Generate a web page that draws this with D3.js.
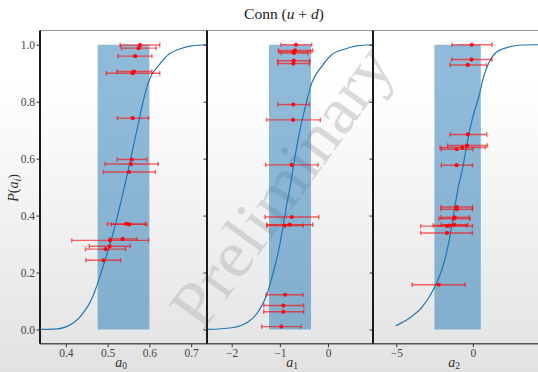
<!DOCTYPE html>
<html>
<head>
<meta charset="utf-8">
<script src="https://cdn.jsdelivr.net/npm/d3@7"></script>
<style>
  body { margin: 0; background: #fff; }
  svg { display: block; }
  .tick text { font-family: "Liberation Serif", serif; font-size: 11.5px; fill: #444; }
  .tick line { stroke: #333; }
  .domain { display: none; }
</style>
</head>
<body>
<div id="chart"></div>
<script>
const width = 538, height = 372;

// tick values
const yTicks = [0, 0.2, 0.4, 0.6, 0.8, 1.0];
const xTicks0 = [0.4, 0.5, 0.6, 0.7];
const xTicks1 = [-2, -1, 0];
const xTicks2 = [-5, 0];

// shaded band [lo, hi] per panel
const bandLo = [0.476, -1.225, -2.51];
const bandHi = [0.600, -0.353, 0.52];

// error bars: [P, centre, lo, hi]
const errs0 = [
  [0.999, 0.578, 0.530, 0.625], [0.988, 0.574, 0.533, 0.616], [0.960, 0.566, 0.525, 0.606],
  [0.906, 0.563, 0.522, 0.606], [0.900, 0.560, 0.497, 0.625], [0.742, 0.560, 0.523, 0.598],
  [0.597, 0.558, 0.523, 0.594], [0.581, 0.556, 0.494, 0.621], [0.553, 0.551, 0.490, 0.614],
  [0.371, 0.545, 0.499, 0.590], [0.369, 0.552, 0.509, 0.594], [0.318, 0.536, 0.505, 0.570],
  [0.313, 0.5055, 0.414, 0.598], [0.292, 0.505, 0.456, 0.554], [0.282, 0.495, 0.447, 0.543],
  [0.243, 0.490, 0.448, 0.531]
];
const errs1 = [
  [1.000, -0.665, -0.976, -0.339], [0.980, -0.685, -1.032, -0.318], [0.975, -0.717, -1.018, -0.353],
  [0.971, -0.706, -0.976, -0.415], [0.944, -0.712, -1.045, -0.374], [0.934, -0.721, -1.045, -0.388],
  [0.790, -0.721, -1.038, -0.388], [0.736, -0.727, -1.273, -0.160], [0.578, -0.754, -1.294, -0.208],
  [0.395, -0.754, -1.308, -0.193], [0.368, -0.795, -1.273, -0.318], [0.365, -0.899, -1.267, -0.513],
  [0.122, -0.893, -1.288, -0.519], [0.084, -0.928, -1.335, -0.505], [0.062, -0.928, -1.335, -0.505],
  [0.010, -0.970, -1.377, -0.561]
];
const errs2 = [
  [1.000, -0.07, -1.36, 1.25], [0.948, -0.09, -1.39, 1.25], [0.929, -0.33, -1.49, 0.88],
  [0.685, -0.33, -1.49, 0.91], [0.646, -0.39, -1.65, 0.95], [0.639, -0.69, -2.14, 0.82],
  [0.633, -1.06, -2.06, 0.00], [0.577, -1.06, -2.06, -0.02], [0.430, -1.06, -2.08, -0.02],
  [0.422, -1.04, -2.08, -0.02], [0.394, -1.19, -2.08, -0.26], [0.389, -1.23, -2.21, -0.18],
  [0.368, -1.21, -2.06, -0.29], [0.365, -1.56, -2.60, -0.42], [0.363, -1.69, -3.40, -0.03],
  [0.339, -1.69, -3.39, -0.03], [0.157, -2.23, -3.96, -0.50]
];

// cumulative curves: [x, P]
const curve0 = [
  [0.338, 0.0], [0.38, 0.002], [0.40, 0.009], [0.42, 0.025], [0.44, 0.055], [0.461, 0.104],
  [0.476, 0.162], [0.489, 0.221], [0.50, 0.272], [0.513, 0.338], [0.533, 0.455], [0.55, 0.565],
  [0.572, 0.713], [0.584, 0.795], [0.60, 0.877], [0.624, 0.93], [0.648, 0.968], [0.671, 0.984],
  [0.70, 0.996], [0.738, 1.0]
];
const curve1 = [
  [-2.513, 0.0], [-2.0, 0.006], [-1.655, 0.027], [-1.448, 0.063], [-1.273, 0.121], [-1.169, 0.18],
  [-1.032, 0.273], [-0.928, 0.367], [-0.858, 0.438], [-0.783, 0.505], [-0.685, 0.607], [-0.582, 0.701],
  [-0.478, 0.777], [-0.339, 0.865], [-0.131, 0.924], [0.077, 0.965], [0.353, 0.985], [0.60, 0.996],
  [0.928, 1.0]
];
const curve2 = [
  [-5.03, 0.013], [-4.16, 0.039], [-3.29, 0.080], [-2.53, 0.145], [-1.99, 0.215], [-1.56, 0.309],
  [-1.23, 0.414], [-0.95, 0.50], [-0.69, 0.561], [-0.37, 0.654], [-0.05, 0.736], [0.39, 0.818],
  [0.71, 0.889], [1.04, 0.936], [1.47, 0.971], [2.12, 0.988], [3.2, 0.999], [4.3, 1.0]
];

const xLabels = ["0", "1", "2"];

const margin = { top: 30.5, bottom: 343.7 };
const panels = [
  { x0: 40, x1: 207, dom: [0.338, 0.738], ticks: xTicks0, fmt: d3.format(".1f"), errs: errs0, curve: curve0, lx: 121 },
  { x0: 207, x1: 373, dom: [-2.513, 0.934], ticks: xTicks1, fmt: d3.format("d"), errs: errs1, curve: curve1, lx: 292 },
  { x0: 373, x1: 539, dom: [-6.52, 4.32], ticks: xTicks2, fmt: d3.format("d"), errs: errs2, curve: curve2, lx: 454 }
];

const svg = d3.select("#chart").append("svg")
  .attr("width", width)
  .attr("height", height);

const defs = svg.append("defs");
const grad = defs.append("linearGradient")
  .attr("id", "bg").attr("x1", 0).attr("y1", 0).attr("x2", 0).attr("y2", 1);
grad.append("stop").attr("offset", "0%").attr("stop-color", "#ffffff");
grad.append("stop").attr("offset", "22%").attr("stop-color", "#ffffff");
grad.append("stop").attr("offset", "100%").attr("stop-color", "#e2e2e2");

svg.append("rect").attr("width", width).attr("height", height).attr("fill", "url(#bg)");

const yScale = d3.scaleLinear().domain([-0.05, 1.05]).range([margin.bottom, margin.top]);

// watermark
svg.append("text")
  .attr("transform", "translate(281,186) rotate(-54)")
  .attr("text-anchor", "middle")
  .attr("dominant-baseline", "central")
  .attr("textLength", 330)
  .attr("lengthAdjust", "spacingAndGlyphs")
  .style("font-family", "'Liberation Serif', serif")
  .style("font-size", "66px")
  .style("fill", "#bbb")
  .style("fill-opacity", 0.55)
  .text("Preliminary");

const line = d3.line().curve(d3.curveMonotoneX);

panels.forEach((p, i) => {
  const xScale = d3.scaleLinear().domain(p.dom).range([p.x0, p.x1]);
  const g = svg.append("g");

  g.append("rect")
    .attr("x", xScale(bandLo[i]))
    .attr("width", xScale(bandHi[i]) - xScale(bandLo[i]))
    .attr("y", yScale(1))
    .attr("height", yScale(0) - yScale(1))
    .attr("fill", "#1f77b4")
    .attr("fill-opacity", 0.5);

  g.append("path")
    .attr("d", line.x(d => xScale(d[0])).y(d => yScale(d[1]))(p.curve))
    .attr("fill", "none")
    .attr("stroke", "#1f77b4")
    .attr("stroke-width", 1.2);

  const eb = g.selectAll(".eb")
    .data(p.errs)
    .join("g")
    .attr("class", "eb");

  eb.append("line")
    .attr("x1", d => xScale(d[2])).attr("x2", d => xScale(d[3]))
    .attr("y1", d => yScale(d[0])).attr("y2", d => yScale(d[0]));
  eb.append("line")
    .attr("x1", d => xScale(d[2])).attr("x2", d => xScale(d[2]))
    .attr("y1", d => yScale(d[0]) - 2.2).attr("y2", d => yScale(d[0]) + 2.2);
  eb.append("line")
    .attr("x1", d => xScale(d[3])).attr("x2", d => xScale(d[3]))
    .attr("y1", d => yScale(d[0]) - 2.2).attr("y2", d => yScale(d[0]) + 2.2);
  eb.selectAll("line")
    .attr("stroke", "#ff0000")
    .attr("stroke-opacity", 0.6)
    .attr("stroke-width", 1.4);
  eb.append("circle")
    .attr("cx", d => xScale(d[1]))
    .attr("cy", d => yScale(d[0]))
    .attr("r", 2.1)
    .attr("fill", "#ff0000")
    .attr("fill-opacity", 0.9);

  // axes
  g.append("g")
    .attr("transform", `translate(0,${margin.bottom})`)
    .call(d3.axisBottom(xScale).tickValues(p.ticks).tickFormat(p.fmt).tickSize(3.5).tickPadding(1.5));

  g.append("g")
    .attr("transform", `translate(${p.x0},0)`)
    .call(d3.axisLeft(yScale).tickValues(yTicks)
      .tickFormat(i === 0 ? d3.format(".1f") : "").tickSize(3.5).tickPadding(1.5));

  // spines
  g.append("line").attr("x1", p.x0).attr("x2", p.x1).attr("y1", margin.top).attr("y2", margin.top)
    .attr("stroke", "#999").attr("stroke-width", 1.2);
  g.append("line").attr("x1", p.x0).attr("x2", p.x1).attr("y1", margin.bottom).attr("y2", margin.bottom)
    .attr("stroke", "#555").attr("stroke-width", 1.5);
  g.append("line").attr("x1", p.x0).attr("x2", p.x0).attr("y1", margin.top).attr("y2", margin.bottom)
    .attr("stroke", "#1a1a1a").attr("stroke-width", 2);
  g.append("line").attr("x1", p.x1).attr("x2", p.x1).attr("y1", margin.top).attr("y2", margin.bottom)
    .attr("stroke", "#1a1a1a").attr("stroke-width", 2);

  // x label a_i
  const xl = svg.append("text")
    .attr("x", p.lx)
    .attr("y", 366.5)
    .attr("text-anchor", "middle")
    .style("font-family", "'Liberation Serif', serif")
    .style("font-size", "14px")
    .style("fill", "#333");
  xl.append("tspan").style("font-style", "italic").text("a");
  xl.append("tspan").attr("dy", 2).style("font-size", "9.5px").text(xLabels[i]);
});

// y label P(a_i)
const yl = svg.append("text")
  .attr("transform", "translate(18,188) rotate(-90)")
  .attr("text-anchor", "middle")
  .style("font-family", "'Liberation Serif', serif")
  .style("font-size", "14px")
  .style("fill", "#333");
yl.append("tspan").style("font-style", "italic").text("P");
yl.append("tspan").text("(");
yl.append("tspan").style("font-style", "italic").text("a");
yl.append("tspan").attr("dy", 3).style("font-size", "10px").style("font-style", "italic").text("i");
yl.append("tspan").attr("dy", -3).text(")");

// title
const title = svg.append("text")
  .attr("x", 284)
  .attr("y", 19)
  .attr("text-anchor", "middle")
  .style("font-family", "'Liberation Serif', serif")
  .style("font-size", "15.5px")
  .style("fill", "#222");
title.append("tspan").text("Conn (");
title.append("tspan").style("font-style", "italic").text("u");
title.append("tspan").text(" + ");
title.append("tspan").style("font-style", "italic").text("d");
title.append("tspan").text(")");
</script>
</body>
</html>
